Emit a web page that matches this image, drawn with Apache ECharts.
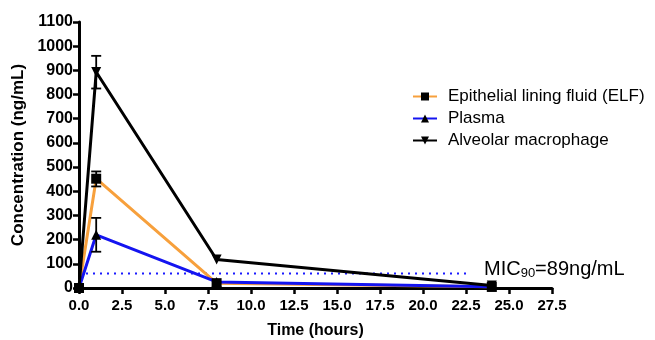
<!DOCTYPE html>
<html>
<head>
<meta charset="utf-8">
<script src="https://cdn.jsdelivr.net/npm/echarts@6/dist/echarts.min.js"></script>
<style>
  html, body { margin: 0; padding: 0; background: #fff; }
  #chart { width: 655px; height: 340px; }
</style>
</head>
<body>
<div id="chart"></div>
<script>
// time points (hours)
const times = [0, 1, 8, 24]

// mean concentrations (ng/mL)
const elf = [0, 452, 20, 5]
const plasma = [0, 220, 25, 5]
const macrophage = [0, 893, 118, 10]

// error bars at t = 1 h: [time, low, high]
const elfErr = [[1, 420, 482]]
const plasmaErr = [[1, 150, 290]]
const macrophageErr = [[1, 825, 960]]

// MIC reference line
const micLine = [[0, 60], [22.7, 60]]

const xTicks = { min: 0, max: 27.5, step: 2.5 }
const yTicks = { min: 0, max: 1100, step: 100 }

const FONT = 'Arial, "Liberation Sans", sans-serif'

const chart = echarts.init(document.getElementById('chart'), null, { renderer: 'canvas' })

const pairs = vals => times.map((t, i) => [t, vals[i]])

function errorSeries(data) {
  return {
    type: 'custom',
    silent: true,
    z: 5,
    data: data,
    renderItem: (params, api) => {
      const x = api.value(0)
      const lo = api.coord([x, api.value(1)])
      const hi = api.coord([x, api.value(2)])
      const cap = 5
      const style = { stroke: '#000', lineWidth: 1.8 }
      return {
        type: 'group',
        children: [
          { type: 'line', shape: { x1: lo[0], y1: lo[1], x2: hi[0], y2: hi[1] }, style },
          { type: 'line', shape: { x1: hi[0] - cap, y1: hi[1], x2: hi[0] + cap, y2: hi[1] }, style },
          { type: 'line', shape: { x1: lo[0] - cap, y1: lo[1], x2: lo[0] + cap, y2: lo[1] }, style }
        ]
      }
    }
  }
}

const option = {
  backgroundColor: '#fff',
  animation: false,
  textStyle: { fontFamily: FONT },
  grid: { left: 79, right: 103, top: 22, bottom: 52, outerBoundsMode: 'none', containLabel: false },
  legend: {
    data: ['Epithelial lining fluid (ELF)', 'Plasma', 'Alveolar macrophage'],
    orient: 'vertical',
    left: 407,
    top: 83,
    itemWidth: 24,
    itemHeight: 10,
    itemGap: 5,
    textStyle: { fontFamily: FONT, fontSize: 17, color: '#000', padding: [0, 0, 0, 6] }
  },
  xAxis: {
    type: 'value',
    min: xTicks.min,
    max: xTicks.max,
    interval: xTicks.step,
    name: 'Time (hours)',
    nameLocation: 'middle',
    nameGap: 35,
    nameTextStyle: { fontFamily: FONT, fontSize: 16, fontWeight: 'bold', color: '#000' },
    axisLine: { lineStyle: { color: '#000', width: 3 } },
    axisTick: { length: 6, lineStyle: { color: '#000', width: 2.5 } },
    axisLabel: {
      color: '#000', fontSize: 15, fontWeight: 'bold', fontFamily: FONT, margin: 10,
      formatter: v => v.toFixed(1)
    },
    splitLine: { show: false }
  },
  yAxis: {
    type: 'value',
    min: yTicks.min,
    max: yTicks.max,
    interval: yTicks.step,
    name: 'Concentration (ng/mL)',
    nameLocation: 'middle',
    nameGap: 48,
    nameTextStyle: { fontFamily: FONT, fontSize: 17, fontWeight: 'bold', color: '#000' },
    axisLine: { show: true, lineStyle: { color: '#000', width: 3 } },
    axisTick: { show: true, length: 6, lineStyle: { color: '#000', width: 2.5 } },
    axisLabel: {
      color: '#000', fontSize: 16, fontWeight: 'bold', fontFamily: FONT, margin: 6,
      formatter: v => String(v)
    },
    splitLine: { show: false }
  },
  series: [
    {
      name: 'MIC',
      type: 'line',
      data: micLine,
      symbol: 'none',
      silent: true,
      z: 1,
      lineStyle: { color: '#1a1aff', width: 2, type: [2, 5] }
    },
    {
      name: 'Epithelial lining fluid (ELF)',
      type: 'line',
      data: pairs(elf),
      symbol: 'rect',
      symbolSize: 10,
      z: 3,
      itemStyle: { color: '#000' },
      lineStyle: { color: '#f7a03c', width: 3 }
    },
    {
      name: 'Plasma',
      type: 'line',
      data: pairs(plasma),
      symbol: 'triangle',
      symbolSize: 10,
      z: 3,
      itemStyle: { color: '#000' },
      lineStyle: { color: '#1414f0', width: 3 }
    },
    {
      name: 'Alveolar macrophage',
      type: 'line',
      data: pairs(macrophage),
      symbol: 'triangle',
      symbolRotate: 180,
      symbolSize: 10,
      z: 3,
      itemStyle: { color: '#000' },
      lineStyle: { color: '#000', width: 3 },
      markPoint: {
        symbol: 'none',
        data: [{ coord: [1, 1015], value: '**' }],
        label: { show: true, formatter: '**', color: '#000', fontSize: 15, fontFamily: FONT }
      }
    },
    errorSeries(elfErr),
    errorSeries(plasmaErr),
    errorSeries(macrophageErr)
  ],
  graphic: [
    {
      type: 'text',
      left: 484,
      top: 259,
      style: {
        text: '{a|MIC}{b|90}{a|=89ng/mL}',
        rich: {
          a: { fontFamily: FONT, fontSize: 20, fill: '#000', color: '#000' },
          b: { fontFamily: FONT, fontSize: 13, fill: '#000', color: '#000', verticalAlign: 'bottom', padding: [9, 0, 0, 0] }
        }
      }
    }
  ]
}

chart.setOption(option)
</script>
</body>
</html>
